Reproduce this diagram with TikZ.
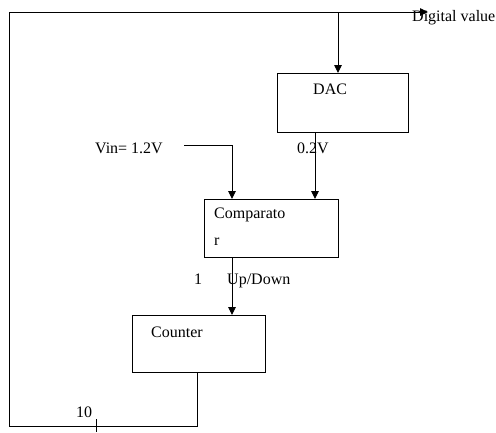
\documentclass[tikz,border=0pt]{standalone}
\usepackage{fontspec}
\setmainfont{Liberation Serif}
\usetikzlibrary{arrows.meta}
\begin{document}
\begin{tikzpicture}[x=1pt,y=-1pt,
  box/.style={draw,line width=0.9pt,inner sep=0pt,outer sep=0pt},
  wire/.style={line width=0.9pt},
  arr/.style={wire,-{Triangle[length=8pt,width=7.5pt]}},
  lbl/.style={anchor=base west,inner sep=0pt,font=\fontsize{16}{19}\selectfont}]
\useasboundingbox (0,0) rectangle (496,432);
% boxes
\node[box,minimum width=131pt,minimum height=59pt] (dac) at (342.5,102.5) {};
\node[box,minimum width=134pt,minimum height=58pt] (comp) at (271,228) {};
\node[box,minimum width=133pt,minimum height=57pt] (counter) at (198.5,343.5) {};
% texts
\node[lbl] (tdig) at (412,21) {Digital value};
\node[lbl] (tdac) at (313,94) {DAC};
\node[lbl] (tvin) at (95,153) {Vin= 1.2V};
\node[lbl] (t02) at (297,153) {0.2V};
\node[lbl] (tcomp1) at (214,218) {Comparato};
\node[lbl] (tcomp2) at (214,245) {r};
\node[lbl] (tone) at (194,284) {1};
\node[lbl] (tud) at (227,284) {Up/Down};
\node[lbl] (tcnt) at (151,337) {Counter};
\node[lbl] (tten) at (76,417) {10};
% coordinates
\coordinate (tl) at (9,12);
\coordinate (tr) at (428,12);
\coordinate (tapdac) at (338,12);
\coordinate (bl) at (9,426);
\coordinate (cntout) at (197,426);
\coordinate (vinstart) at (184,145);
\coordinate (vincorner) at (232,145);
\coordinate (dacout) at (315,132);
\coordinate (compout) at (232,257);
% feedback loop and output
\draw[wire] (cntout |- counter.south) -- (cntout) -- (bl) -- (tl);
\draw[arr] (tl) -- (tr);
\draw[arr] (tapdac) -- (tapdac |- dac.north);
% DAC to comparator
\draw[arr] (dacout) -- (dacout |- comp.north);
% Vin to comparator
\draw[arr] (vinstart) -- (vincorner) -- (vincorner |- comp.north);
% comparator to counter
\draw[arr] (compout) -- (compout |- counter.north);
% tick
\draw[wire] (96,419) -- (96,432);
\end{tikzpicture}
\end{document}
